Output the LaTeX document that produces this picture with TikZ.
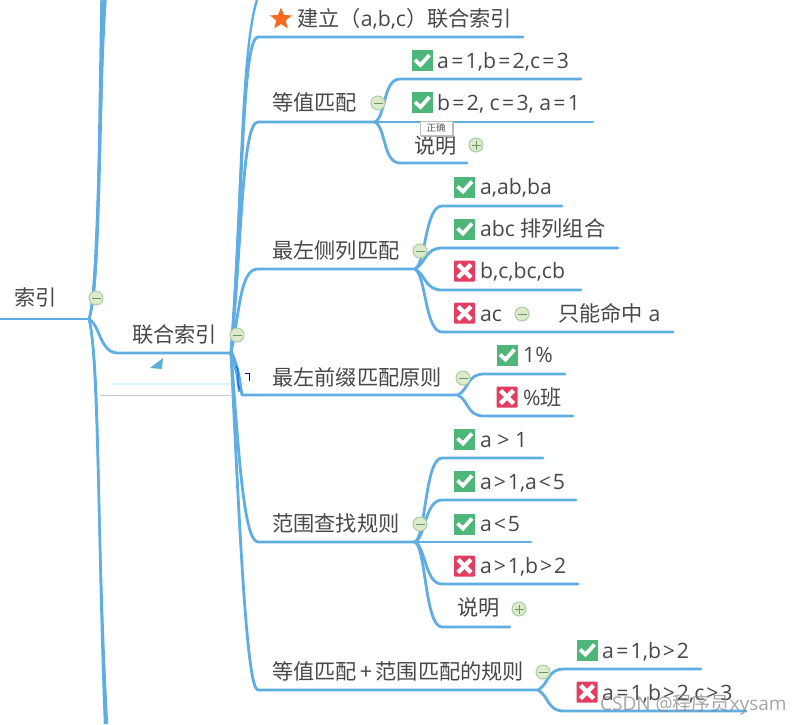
\documentclass[tikz,border=0pt]{standalone}
\usepackage{fontspec}
\setmainfont{Open Sans}
\newfontfamily\cjk{Noto Sans CJK SC}
\usetikzlibrary{shapes.geometric}
\newcommand\zh[1]{{\cjk #1}}
\newcommand\eq{\kern2.3pt=\kern2.3pt}
\newcommand\gt{\kern1.9pt>\kern1.9pt}
\newcommand\lt{\kern1.9pt<\kern1.9pt}
\definecolor{linkc}{HTML}{5FAEE3}
\definecolor{inkc}{HTML}{484848}
\definecolor{okc}{HTML}{4DB678}
\definecolor{noc}{HTML}{E43D62}
\definecolor{starc}{HTML}{F46A1E}
\definecolor{foldf}{HTML}{DDEBCB}
\definecolor{foldd}{HTML}{A9CDA6}
\tikzset{
  conn/.style={draw=linkc,line width=2.8pt,line cap=round,line join=round},
  trunk/.style={draw=linkc,line width=2.4pt},
  lab/.style={anchor=west,inner sep=0pt,text=inkc,font=\fontsize{21.2}{21}\selectfont,text height=19pt,text depth=4pt},
  okbox/.style={rectangle,fill=okc,minimum size=21pt,inner sep=0pt},
  nobox/.style={rectangle,fill=noc,rounded corners=1pt,minimum size=21pt,inner sep=0pt},
  tickm/.style={draw=white,line width=3.8pt},
  crossm/.style={draw=white,line width=4.4pt},
  foldc/.style={circle,fill=foldf,draw=foldd,line width=1pt,minimum size=14pt,inner sep=0pt},
  foldm/.style={draw=gray!80!green,line width=.8pt},
  tip/.style={rectangle,fill=white,draw=black!25,line width=.7pt,inner sep=0pt,minimum width=32pt,minimum height=14pt,text=black!65,font=\cjk\fontsize{9.5}{10}\selectfont}
}
\newcommand\minusfold[2]{\node[foldc] (#1) at (#2) {};\draw[foldm] ([shift={(-4.5,0)}]#1.center) -- ([shift={(4.5,0)}]#1.center);}
\newcommand\plusfold[2]{\minusfold{#1}{#2}\draw[foldm] ([shift={(0,-4.5)}]#1.center) -- ([shift={(0,4.5)}]#1.center);}
\newcommand\okicon[2]{\node[okbox] (#1) at (#2) {};\draw[tickm] ([shift={(-7,-0.5)}]#1.center) -- ([shift={(-1.5,4.5)}]#1.center) -- ([shift={(7.5,-5.5)}]#1.center);}
\newcommand\noicon[2]{\node[nobox] (#1) at (#2) {};\draw[crossm] ([shift={(-6.5,-6.5)}]#1.center) -- ([shift={(6.5,6.5)}]#1.center);\draw[crossm] ([shift={(6.5,-6.5)}]#1.center) -- ([shift={(-6.5,6.5)}]#1.center);}
\newcommand\twigup[5]{\coordinate (#2s) at (#4,#3);\coordinate (#2e) at (#5,#3);\draw[conn] (#1) .. controls +(11,-6) and +(-17,0) .. (#2s) -- (#2e);}
\newcommand\twigdown[5]{\coordinate (#2s) at (#4,#3);\coordinate (#2e) at (#5,#3);\draw[conn] (#1) .. controls +(11,6) and +(-17,0) .. (#2s) -- (#2e);}
\begin{document}
\begin{tikzpicture}[x=1pt,y=-1pt]
\useasboundingbox (0,0) rectangle (800,724);
\fill[white] (0,0) rectangle (800,724);

\coordinate (rootL) at (0,319);
\coordinate (hubA) at (89,319);
\coordinate (hubB) at (231,353);
\coordinate (hubC) at (375,122);
\coordinate (hubD) at (415,269);
\coordinate (hubE) at (458,395);
\coordinate (hubF) at (415,542);
\coordinate (hubG) at (538,690);
\coordinate (topA1) at (101.5,0);
\coordinate (topA2) at (103.5,0);
\coordinate (topA3) at (105.5,0);
\coordinate (botA1) at (105,724);
\coordinate (botA2) at (107,724);
\coordinate (topB) at (257,0);
\coordinate (uA) at (118,353);
\coordinate (smudgeL) at (100,395);
\coordinate (smudgeB) at (240,392);
\coordinate (speckA) at (245,373);
\coordinate (speckB) at (249,373);
\coordinate (speckC) at (249,381);

% smudged area
\fill[cyan!60!teal!75] (163,358) -- (150,368) -- (162,369) -- cycle;
\draw[black!35,line width=1pt,opacity=.6] (smudgeL) -- (hubB |- smudgeL);
\draw[cyan!14,line width=1.2pt] (112,384) -- (232,384);

% trunk of the left topic
\draw[conn] (rootL) -- (hubA);
\draw[trunk] (hubA) .. controls (98,292) and (98,200) .. (topA1);
\draw[trunk] (hubA) .. controls (98,292) and (99,200) .. (topA2);
\draw[trunk] (hubA) .. controls (98,292) and (99,100) .. (topA3);
\draw[trunk] (hubA) .. controls (100,360) and (97,520) .. (botA1);
\draw[trunk] (hubA) .. controls (99,360) and (97,540) .. (botA2);
\draw[conn] (hubA) .. controls (100,325) and (100,353) .. (uA) -- (hubB);

% branches of hubB
\coordinate (aS) at (258,37);  \coordinate (aE) at (523,37);
\coordinate (bS) at (258,122); \coordinate (bE) at (hubC);
\coordinate (cS) at (258,269); \coordinate (cE) at (hubD);
\coordinate (dS) at (242,395); \coordinate (dE) at (hubE);
\coordinate (eS) at (258,542); \coordinate (eE) at (hubF);
\coordinate (fS) at (258,690); \coordinate (fE) at (hubG);
\draw[trunk] (hubB) .. controls (242,200) and (241,50) .. (topB);
\draw[conn] (hubB) .. controls (243,200) and (242,37) .. (aS) -- (aE);
\draw[conn] (hubB) .. controls (242,240) and (242,122) .. (bS) -- (bE);
\draw[conn] (hubB) .. controls (240,310) and (240,269) .. (cS) -- (cE);
\draw[conn] (hubB) .. controls (238,365) and (240,385) .. (dS) -- (dE);
\draw[conn] (hubB) .. controls (238,440) and (243,542) .. (eS) -- (eE);
\draw[conn] (hubB) .. controls (240,540) and (247,690) .. (fS) -- (fE);
\draw[draw=linkc,line width=4.5pt] (hubB) .. controls (235,362) and (239,375) .. (smudgeB);
\draw[blue!60!cyan,line width=1.2pt] (236,366) .. controls (241,372) and (235,380) .. (240,390);
\draw[blue!60!black,line width=.8pt] (speckA) -- (speckB) -- (speckC);

% twigs
\twigup{hubC}{c1}{79}{400}{581}
\draw[conn] (hubC) -- (593,122);
\twigdown{hubC}{c3}{163}{400}{467}
\twigup{hubD}{d1}{206}{442}{562}
\twigup{hubD}{d2}{248}{442}{618}
\twigdown{hubD}{d3}{290}{442}{581}
\twigdown{hubD}{d4}{332}{442}{673}
\twigup{hubE}{e1}{374}{484}{565}
\twigdown{hubE}{e2}{416}{484}{573}
\twigup{hubF}{f1}{458}{442}{543}
\twigup{hubF}{f2}{500}{442}{576}
\draw[conn] (hubF) -- (531,542);
\twigdown{hubF}{f4}{584}{442}{578}
\twigdown{hubF}{f5}{627}{442}{510}
\twigup{hubG}{g1}{669}{564}{701}
\twigdown{hubG}{g2}{711}{564}{746}

% topic labels
\node[lab] (tRoot) at (14,298) {\zh{索引}};
\minusfold{foldRoot}{96,298}
\node[lab] (tUnion) at (132,335) {\zh{联合索引}};
\minusfold{foldUnion}{237,335}
\node[star,star points=5,star point ratio=2.3,fill=starc,minimum size=23pt,inner sep=0pt] (iStar) at (281,19) {};
\node[lab] (tA) at (297,19) {\zh{建立（}a,b,c\zh{）联合索引}};
\node[lab] (tB) at (272,103) {\zh{等值匹配}};
\minusfold{foldB}{378,103}
\node[lab] (tC) at (272,251) {\zh{最左侧列匹配}};
\minusfold{foldC}{420,251}
\node[lab] (tD) at (272,378) {\zh{最左前缀匹配原则}};
\minusfold{foldD}{463,378}
\node[lab] (tE) at (272,524) {\zh{范围查找规则}};
\minusfold{foldE}{420,524}
\node[lab] (tF) at (272,672) {\zh{等值匹配\kern3.5pt+\kern3.5pt范围匹配的规则}};
\minusfold{foldF}{543,672}

% leaves of 等值匹配
\okicon{i1}{422,60.5}
\node[lab] (l1) at (437,61) {a\eq1,b\eq2,c\eq3};
\okicon{i2}{422,102.5}
\node[lab] (l2) at (437,103) {b\eq2, c\eq3, a\eq1};
\node[lab] (l3) at (414,146) {\zh{说明}};
\plusfold{fold3}{476,145}
\draw[black!30,line width=1.6pt] (453,122) -- (453,136) -- (421,136);
\node[tip] (tipA) at (436,128) {正确};

% leaves of 最左侧列匹配
\okicon{i4}{464.5,187}
\node[lab] (l4) at (480,187) {a,ab,ba};
\okicon{i5}{464.5,229}
\node[lab] (l5) at (480,229) {abc \zh{排列组合}};
\noicon{i6}{464.5,271}
\node[lab] (l6) at (480,271) {b,c,bc,cb};
\noicon{i7}{464.5,313}
\node[lab] (l7) at (480,314) {ac};
\minusfold{fold7}{522,314}
\node[lab] (l8) at (558,314) {\zh{只能命中} a};

% leaves of 最左前缀匹配原则
\okicon{i9}{507,355}
\node[lab] (l9) at (523,355) {1\%};
\noicon{i10}{507,397}
\node[lab] (l10) at (523,398) {\%\zh{班}};

% leaves of 范围查找规则
\okicon{i11}{464.5,439}
\node[lab] (l11) at (480,440) {a > 1};
\okicon{i12}{464.5,481}
\node[lab] (l12) at (480,482) {a\gt1,a\lt5};
\okicon{i13}{464.5,524}
\node[lab] (l13) at (480,524) {a\lt5};
\noicon{i14}{464.5,566}
\node[lab] (l14) at (480,566) {a\gt1,b\gt2};
\node[lab] (l15) at (457,608) {\zh{说明}};
\plusfold{fold15}{519,609}

% leaves of 等值匹配+范围匹配的规则
\okicon{i16}{587,650}
\node[lab] (l16) at (602,651) {a\eq1,b\gt2};
\noicon{i17}{587,692}
\node[lab] (l17) at (602,693) {a\eq1,b\gt2,c\gt3};

% watermark
\node[anchor=west,inner sep=0pt,text=black!50,opacity=.7,font=\fontsize{19}{19}\selectfont] (wm) at (600,705) {CSDN @\zh{程序员}xysam};
\end{tikzpicture}
\end{document}
